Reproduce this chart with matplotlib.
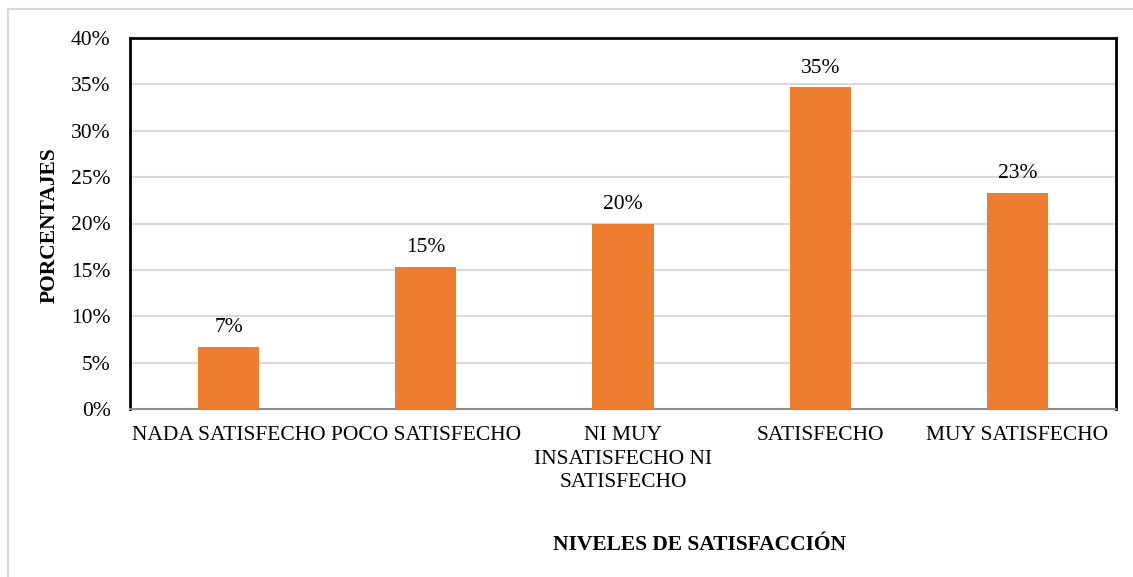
import matplotlib.pyplot as plt
from matplotlib.patches import Rectangle

# Datos
niveles = ["NADA SATISFECHO", "POCO SATISFECHO", "NI MUY\nINSATISFECHO NI\nSATISFECHO",
           "SATISFECHO", "MUY SATISFECHO"]
porcentajes = [6.67, 15.33, 20.0, 34.67, 23.33]
etiquetas = ["7%", "15%", "20%", "35%", "23%"]
yticks = [0, 5, 10, 15, 20, 25, 30, 35, 40]

plt.rcParams['font.family'] = ['Liberation Serif', 'DejaVu Serif']
fs = 15.5

W, H = 1133, 577
fig = plt.figure(figsize=(W/100, H/100), dpi=100)
ax = fig.add_axes([130/W, 1 - 409/H, (1116-130)/W, (409-38)/H])

# Borde exterior gris claro
fig.patches.append(Rectangle((8/W, -0.1), 1.2, 1 - 9/H + 0.1, transform=fig.transFigure,
                             fill=False, ec="#d9d9d9", lw=1.5))

x = range(len(niveles))
ax.bar(x, porcentajes, width=0.31, color="#ED7D31", zorder=3)

for xi, v, t in zip(x, porcentajes, etiquetas):
    ax.annotate(t, xy=(xi, v), xytext=(0, 7), textcoords="offset points",
                ha="center", va="bottom", fontsize=fs)

ax.set_xlim(-0.5, len(niveles) - 0.5)
ax.set_ylim(0, 40)
ax.set_yticks(yticks)
ax.set_yticklabels([f"{t}%" for t in yticks], fontsize=fs)
ax.set_xticks(list(x))
ax.set_xticklabels(niveles, fontsize=fs, linespacing=1.35)
ax.tick_params(length=0)
ax.tick_params(axis="x", pad=12)
ax.tick_params(axis="y", pad=14)

ax.grid(axis="y", color="#d9d9d9", lw=1.5, zorder=0)
for s in ["left", "top", "right"]:
    ax.spines[s].set_color("black")
    ax.spines[s].set_linewidth(2)
ax.spines["bottom"].set_color("#8c8c8c")
ax.spines["bottom"].set_linewidth(1.5)

fig.text(50/W, 1 - 225/H, "PORCENTAJES", rotation=90, ha="center", va="center",
         fontsize=fs, fontweight="bold")
fig.text(700/W, 1 - 545/H, "NIVELES DE SATISFACCIÓN", ha="center", va="center",
         fontsize=fs, fontweight="bold")

plt.savefig("out.png", dpi=100)
